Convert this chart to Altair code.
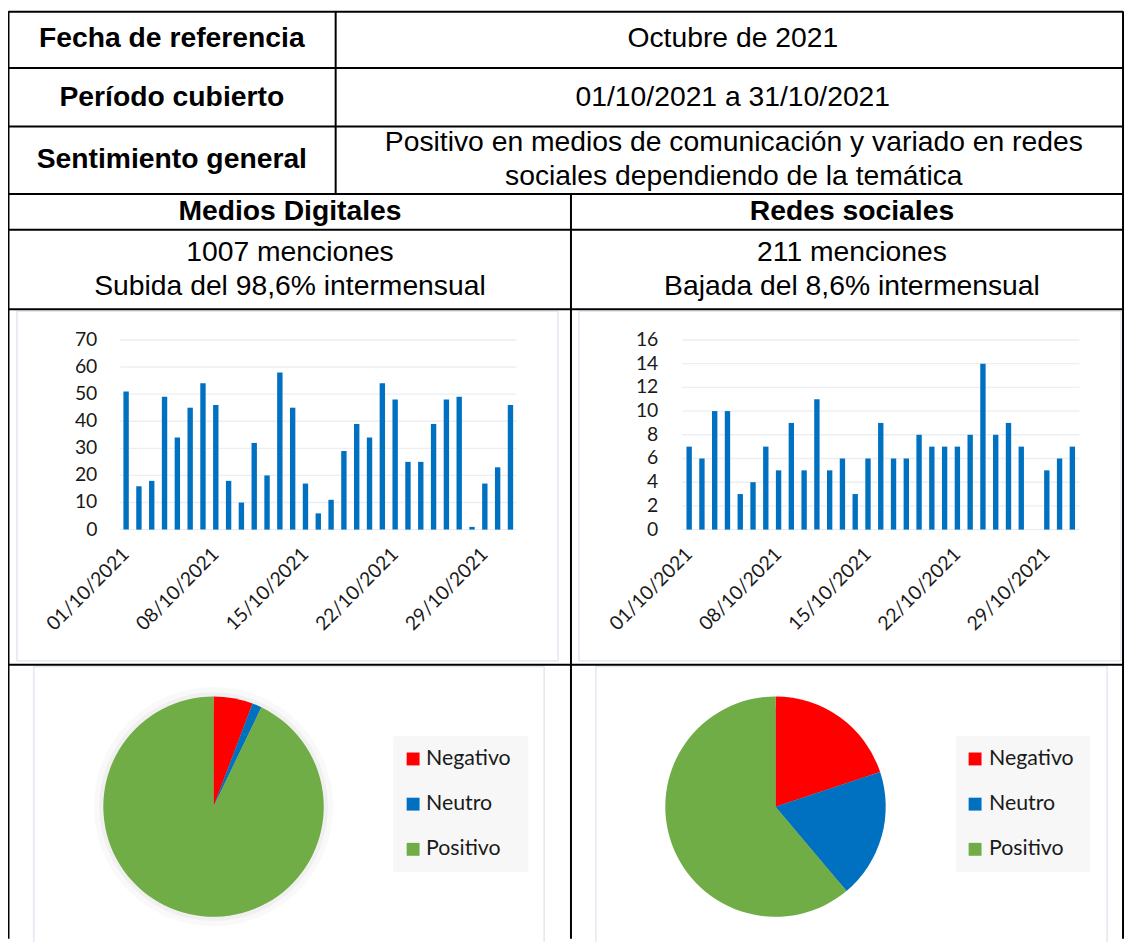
import altair as alt
import pandas as pd

# ---------------- data ----------------
fechas = ["01/10/2021", "02/10/2021", "03/10/2021", "04/10/2021", "05/10/2021", "06/10/2021",
          "07/10/2021", "08/10/2021", "09/10/2021", "10/10/2021", "11/10/2021", "12/10/2021",
          "13/10/2021", "14/10/2021", "15/10/2021", "16/10/2021", "17/10/2021", "18/10/2021",
          "19/10/2021", "20/10/2021", "21/10/2021", "22/10/2021", "23/10/2021", "24/10/2021",
          "25/10/2021", "26/10/2021", "27/10/2021", "28/10/2021", "29/10/2021", "30/10/2021",
          "31/10/2021"]
medios_menciones = [51, 16, 18, 49, 34, 45, 54, 46, 18, 10, 32, 20, 58, 45, 17, 6, 11, 29, 39, 34,
                    54, 48, 25, 25, 39, 48, 49, 1, 17, 23, 46]
redes_menciones = [7, 6, 10, 10, 3, 4, 7, 5, 9, 5, 11, 5, 6, 3, 6, 9, 6, 6, 8, 7,
                   7, 7, 8, 14, 8, 9, 7, 0, 5, 6, 7]
etiquetas_x = ["01/10/2021", "08/10/2021", "15/10/2021", "22/10/2021", "29/10/2021"]
ticks_medios = [0, 10, 20, 30, 40, 50, 60, 70]
ticks_redes = [0, 2, 4, 6, 8, 10, 12, 14, 16]

sentimientos = ["Negativo", "Neutro", "Positivo"]
sent_medios = [58, 14, 935]
sent_redes = [42, 40, 129]
colores = ["#ff0000", "#0070c0", "#70ad47"]

textos_tabla = {
    "fecha_t": "Fecha de referencia",
    "fecha_v": "Octubre de 2021",
    "periodo_t": "Período cubierto",
    "periodo_v": "01/10/2021 a 31/10/2021",
    "sent_t": "Sentimiento general",
    "sent_v1": "Positivo en medios de comunicación y variado en redes",
    "sent_v2": "sociales dependiendo de la temática",
    "medios_t": "Medios Digitales",
    "redes_t": "Redes sociales",
    "medios_1": "1007 menciones",
    "medios_2": "Subida del 98,6% intermensual",
    "redes_1": "211 menciones",
    "redes_2": "Bajada del 8,6% intermensual",
}

dummy = pd.DataFrame({"d": [0]})
TFONT = "Liberation Sans"
CFONT = "Lato"


def txt(s, x, y, bold=False, size=28.5):
    return alt.Chart(dummy).mark_text(
        align="center", baseline="middle", font=TFONT, fontSize=size,
        fontWeight="bold" if bold else "normal", color="black"
    ).encode(x=alt.value(x), y=alt.value(y), text=alt.value(s))


def rule(x1, y1, x2, y2, color="black", w=2):
    return alt.Chart(dummy).mark_rule(color=color, strokeWidth=w).encode(
        x=alt.value(x1), y=alt.value(y1), x2=alt.value(x2), y2=alt.value(y2))


def frame(x1, y1, x2, y2, fill="transparent", stroke="#e3e7f0", w=1.5):
    return alt.Chart(dummy).mark_rect(fill=fill, stroke=stroke, strokeWidth=w).encode(
        x=alt.value(x1), y=alt.value(y1), x2=alt.value(x2), y2=alt.value(y2))


def bar_group(values, ticks, xrange, yrange, grid_x, label_x, xlab_y):
    df = pd.DataFrame({
        "fecha": fechas,
        "menciones": values,
        "etiqueta": [f if f in etiquetas_x else "" for f in fechas],
    })
    tdf = pd.DataFrame({"t": ticks})
    xs = alt.Scale(range=xrange, paddingInner=0.58, paddingOuter=0.29)
    ys = alt.Scale(domain=[ticks[0], ticks[-1]], range=yrange, nice=False)
    X = alt.X("fecha:O", scale=xs, axis=None)
    grid = alt.Chart(tdf).mark_rule(color="#eceef4", strokeWidth=1.4).encode(
        y=alt.Y("t:Q", scale=ys, axis=None),
        x=alt.value(grid_x[0]), x2=alt.value(grid_x[1]))
    ylab = alt.Chart(tdf).mark_text(
        align="right", baseline="middle", font=CFONT, fontSize=19.5, color="#1a1a1a"
    ).encode(y=alt.Y("t:Q", scale=ys, axis=None), x=alt.value(label_x), text=alt.Text("t:Q"))
    bars = alt.Chart(df).mark_bar(color="#0070c0").encode(
        x=X, y=alt.Y("menciones:Q", scale=ys, axis=None))
    xlab = alt.Chart(df).mark_text(
        angle=315, align="right", baseline="middle", font=CFONT, fontSize=19.5, color="#1a1a1a"
    ).encode(x=X, y=alt.value(xlab_y), text="etiqueta:N")
    return alt.layer(grid, bars, ylab, xlab)


def pie_group(values, cx, cy, r, box, sq_x, txt_x, rows_y, ring=False, shadow=False):
    df = pd.DataFrame({"sentimiento": sentimientos, "valor": values, "orden": [0, 1, 2]})
    color = alt.Color("sentimiento:N", scale=alt.Scale(domain=sentimientos, range=colores),
                      legend=None)
    layers = []
    if shadow:
        for rr, op in [(136, 0.025), (130, 0.035), (125, 0.045), (120, 0.055),
                       (116, 0.065), (113, 0.08)]:
            layers.append(alt.Chart(dummy).mark_circle(
                size=3.14159 * rr * rr, color="black", opacity=op
            ).encode(x=alt.value(cx), y=alt.value(cy)))
    if ring:
        layers.append(alt.Chart(dummy).mark_circle(
            size=3.14159 * (r + 2) ** 2, color="#bdbdbd", opacity=1
        ).encode(x=alt.value(cx), y=alt.value(cy)))
    pie = alt.Chart(df).mark_arc(radius=r).encode(
        theta=alt.Theta("valor:Q", stack=True),
        color=color,
        order=alt.Order("orden:Q"),
        x=alt.value(cx), y=alt.value(cy))
    layers.append(pie)
    layers.append(frame(box[0], box[1], box[2], box[3], fill="#f7f7f7", stroke="transparent", w=0))
    ly = alt.Scale(type="point", domain=sentimientos, range=rows_y, padding=0)
    sq = alt.Chart(df).mark_square(size=169, opacity=1).encode(
        x=alt.value(sq_x), y=alt.Y("sentimiento:N", scale=ly, axis=None), color=color)
    lt = alt.Chart(df).mark_text(
        align="left", baseline="middle", font=CFONT, fontSize=21.5, color="#1a1a1a"
    ).encode(x=alt.value(txt_x), y=alt.Y("sentimiento:N", scale=ly, axis=None),
             text="sentimiento:N")
    layers += [sq, lt]
    return alt.layer(*layers)


W, H = 1126, 934
RIGHT = 1123

decor = [
    # Excel chart frames
    frame(9, 302, 554, 654),
    frame(575, 302, 1121, 654),
    frame(26, 660, 540, 940),
    frame(592, 660, 1107, 940),
]

lines = [
    rule(0.5, 0.5, RIGHT, 0.5),
    rule(0.5, 57, RIGHT, 57),
    rule(0.5, 116, RIGHT, 116),
    rule(0.5, 184, RIGHT, 184),
    rule(0.5, 220, RIGHT, 220),
    rule(0.5, 300, RIGHT, 300),
    rule(0.5, 658, RIGHT, 658),
    rule(0.5, 0, 0.5, H),
    rule(RIGHT, 0, RIGHT, H),
    rule(330, 0, 330, 184),
    rule(567, 184, 567, H),
]

texts = [
    txt(textos_tabla["fecha_t"], 165, 27, bold=True),
    txt(textos_tabla["fecha_v"], 730, 27),
    txt(textos_tabla["periodo_t"], 165, 86, bold=True),
    txt(textos_tabla["periodo_v"], 730, 86),
    txt(textos_tabla["sent_t"], 165, 149, bold=True),
    txt(textos_tabla["sent_v1"], 731, 132),
    txt(textos_tabla["sent_v2"], 731, 166),
    txt(textos_tabla["medios_t"], 284, 201, bold=True),
    txt(textos_tabla["redes_t"], 850, 201, bold=True),
    txt(textos_tabla["medios_1"], 284, 242),
    txt(textos_tabla["medios_2"], 284, 277),
    txt(textos_tabla["redes_1"], 850, 242),
    txt(textos_tabla["redes_2"], 850, 277),
]

bar_left = bar_group(medios_menciones, ticks_medios, [112.5, 512.5], [522, 331],
                     [113, 512], 90, 544)
bar_right = bar_group(redes_menciones, ticks_redes, [679.6, 1078.4], [522, 331],
                      [679, 1079], 655, 544)

pie_left = pie_group(sent_medios, 207, 801, 111, (388, 730, 524, 867), 408, 421,
                     [753, 844], shadow=True)
pie_right = pie_group(sent_redes, 773, 801, 111, (955, 730, 1090, 867), 974, 988,
                      [753, 844], ring=True)

chart = alt.layer(
    *decor, bar_left, bar_right, pie_left, pie_right, *lines, *texts
).resolve_scale(
    x="independent", y="independent", theta="independent"
).properties(
    width=W, height=H, padding=0, autosize=alt.AutoSizeParams(type="none"),
    background="white"
).configure_view(stroke=None)

chart.save("out.html", embed_options={"renderer": "svg", "actions": False})
